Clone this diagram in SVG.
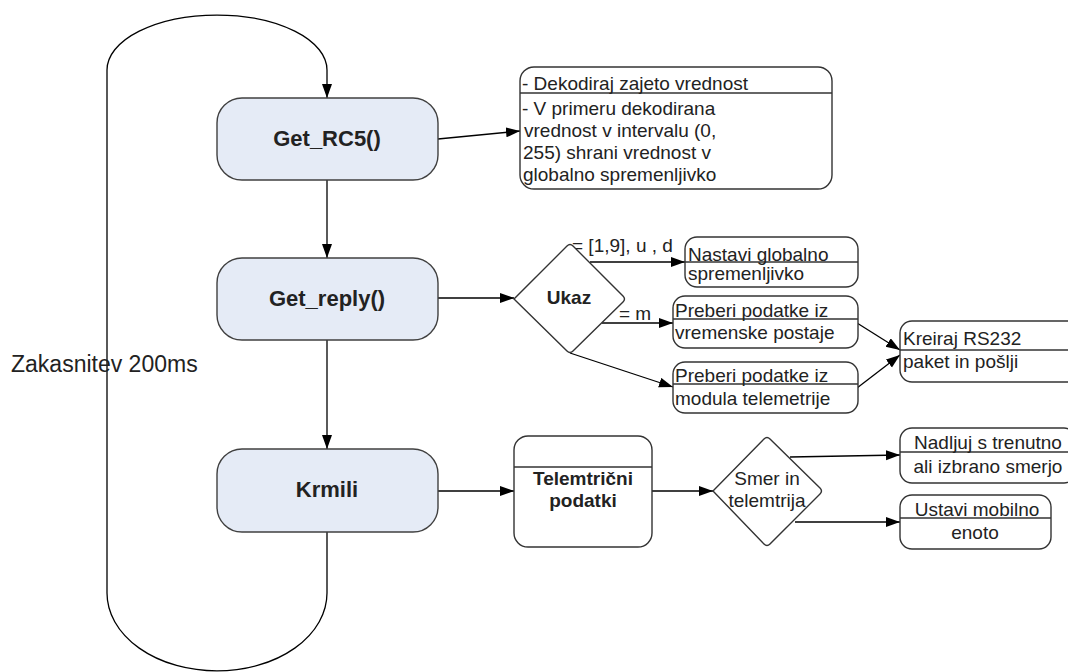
<svg xmlns="http://www.w3.org/2000/svg" width="1068" height="672" viewBox="0 0 1068 672">
  <defs>
    <marker id="arrow" markerWidth="15" markerHeight="11" refX="14" refY="5" orient="auto" markerUnits="userSpaceOnUse">
      <path d="M0,0 L14,5 L0,10 Z" fill="#000"/>
    </marker>
    <style>
      .proc { fill: #E5EBF6; stroke: #404040; stroke-width: 1.4; }
      .box { fill: #FFFFFF; stroke: #333333; stroke-width: 1.4; }
      .div { stroke: #333333; stroke-width: 1.4; fill: none; }
      .edgeA { stroke: #000; stroke-width: 1.3; fill: none; marker-end: url(#arrow); }
      text { font-family: "Liberation Sans", Arial, sans-serif; fill: #222; }
      .big { font-size: 22px; font-weight: bold; text-anchor: middle; }
      .t { font-size: 19px; }
      .tb { font-size: 19px; font-weight: bold; text-anchor: middle; }
      .tm { font-size: 19px; text-anchor: middle; }
    </style>
  </defs>

  <!-- connectors -->
  <g id="connectors">
    <!-- 200 ms loop back to the top -->
    <path class="edgeA" d="M327,532 L327,593 A110,78 0 0 1 107,593 L107,70 A110,55 0 0 1 327,70 L327,98"/>
    <path class="edgeA" d="M327,180 L327,258"/>
    <path class="edgeA" d="M327,340 L327,449"/>
    <path class="edgeA" d="M438,139 L520,131"/>
    <path class="edgeA" d="M438,298 L514,298"/>
    <path class="edgeA" d="M590,262 L685,262"/>
    <path class="edgeA" d="M602,323 L673,323"/>
    <path class="edgeA" d="M570,353 L673,387"/>
    <path class="edgeA" d="M857,323 L900,350"/>
    <path class="edgeA" d="M857,388 L900,355"/>
    <path class="edgeA" d="M438,491 L514,491"/>
    <path class="edgeA" d="M652,491 L713,491"/>
    <path class="edgeA" d="M790,457 L900,455"/>
    <path class="edgeA" d="M795,522 L900,522"/>
    <text class="t" x="572" y="252">= [1,9], u , d</text>
    <text class="t" x="619" y="320">= m</text>
  </g>

  <text id="delay" class="t" style="font-size:23px" x="11" y="372">Zakasnitev 200ms</text>

  <g id="get_rc5">
    <rect class="proc" x="217" y="98" width="221" height="82" rx="25"/>
    <text class="big" x="327" y="146">Get_RC5()</text>
  </g>

  <g id="get_reply">
    <rect class="proc" x="217" y="258" width="221" height="82" rx="25"/>
    <text class="big" x="327" y="306">Get_reply()</text>
  </g>

  <g id="krmili">
    <rect class="proc" x="217" y="449" width="221" height="83" rx="25"/>
    <text class="big" x="327" y="497">Krmili</text>
  </g>

  <g id="decode">
    <rect class="box" x="520" y="67" width="312" height="122" rx="14"/>
    <line class="div" x1="520" y1="93" x2="832" y2="93"/>
    <text class="t" x="522" y="90">- Dekodiraj zajeto vrednost</text>
    <text class="t" x="522" y="115">- V primeru dekodirana</text>
    <text class="t" x="524" y="137">vrednost v intervalu (0,</text>
    <text class="t" x="523" y="159">255) shrani vrednost v</text>
    <text class="t" x="523" y="181">globalno spremenljivko</text>
  </g>

  <g id="ukaz">
    <path class="box" d="M514,299 L567,246 Q570,243 573,246 L623,296 Q626,299 623,302 L573,351 Q570,354 567,351 Z"/>
    <text class="tb" x="569" y="304">Ukaz</text>
  </g>

  <g id="nastavi">
    <rect class="box" x="685" y="237" width="173" height="50" rx="12"/>
    <line class="div" x1="685" y1="262" x2="858" y2="262"/>
    <text class="t" x="688" y="261">Nastavi globalno</text>
    <text class="t" x="688" y="280">spremenljivko</text>
  </g>

  <g id="postaja">
    <rect class="box" x="673" y="296" width="185" height="52" rx="12"/>
    <line class="div" x1="673" y1="319" x2="858" y2="319"/>
    <text class="t" x="675" y="317">Preberi podatke iz</text>
    <text class="t" x="675" y="339">vremenske postaje</text>
  </g>

  <g id="telemetrija">
    <rect class="box" x="673" y="362" width="185" height="51" rx="12"/>
    <line class="div" x1="673" y1="384" x2="858" y2="384"/>
    <text class="t" x="675" y="382">Preberi podatke iz</text>
    <text class="t" x="675" y="405">modula telemetrije</text>
  </g>

  <g id="rs232">
    <rect class="box" x="900" y="321" width="180" height="61" rx="12"/>
    <line class="div" x1="900" y1="350" x2="1080" y2="350"/>
    <text class="t" x="903" y="345">Kreiraj RS232</text>
    <text class="t" x="903" y="368">paket in pošlji</text>
  </g>

  <g id="telemetricni">
    <rect class="box" x="514" y="436" width="138" height="111" rx="14"/>
    <line class="div" x1="514" y1="467" x2="652" y2="467"/>
    <text class="tb" x="583" y="485">Telemtrični</text>
    <text class="tb" x="583" y="507">podatki</text>
  </g>

  <g id="smer">
    <path class="box" d="M713,491 L764,439 Q767,436 770,439 L820,488 Q823,491 820,494 L770,544 Q767,547 764,544 Z"/>
    <text class="tm" x="767" y="485">Smer in</text>
    <text class="tm" x="767" y="507">telemtrija</text>
  </g>

  <g id="nadljuj">
    <rect class="box" x="900" y="428" width="176" height="55" rx="12"/>
    <line class="div" x1="900" y1="452" x2="1076" y2="452"/>
    <text class="tm" x="988" y="449">Nadljuj s trenutno</text>
    <text class="tm" x="988" y="473">ali izbrano smerjo</text>
  </g>

  <g id="ustavi">
    <rect class="box" x="900" y="495" width="151" height="54" rx="12"/>
    <line class="div" x1="900" y1="518" x2="1051" y2="518"/>
    <text class="tm" x="977" y="516">Ustavi mobilno</text>
    <text class="tm" x="975" y="539">enoto</text>
  </g>
</svg>
